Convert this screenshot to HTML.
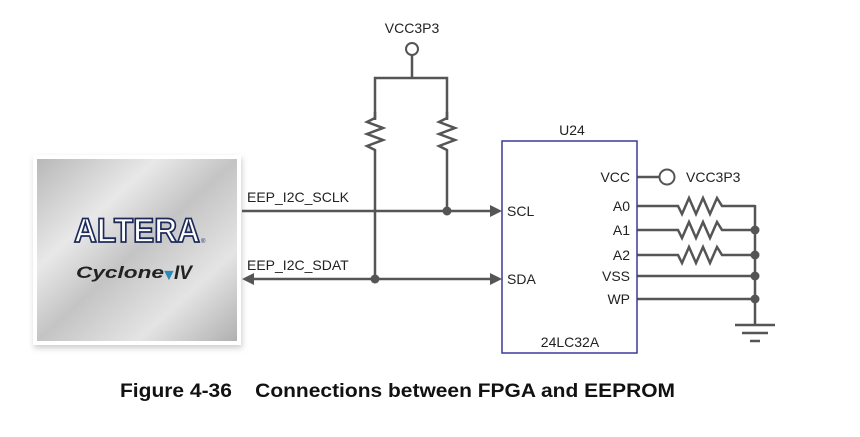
<!DOCTYPE html>
<html><head><style>
body{margin:0;background:#fff;}
svg text{font-family:"Liberation Sans",sans-serif;fill:#222;}
</style></head><body>
<svg width="860" height="432" viewBox="0 0 860 432" xmlns="http://www.w3.org/2000/svg">
<defs>
<linearGradient id="chip" x1="0" y1="0" x2="1" y2="1">
<stop offset="0" stop-color="#b8b8b8"/><stop offset="0.3" stop-color="#e8e8e8"/>
<stop offset="0.5" stop-color="#c4c4c4"/><stop offset="0.75" stop-color="#e4e4e4"/><stop offset="1" stop-color="#b0b0b0"/>
</linearGradient>
<filter id="sh" x="-10%" y="-10%" width="120%" height="120%"><feGaussianBlur stdDeviation="3"/></filter>
</defs>
<rect x="34" y="158" width="208" height="190" fill="#ccc" filter="url(#sh)"/>
<rect x="33" y="155" width="208" height="190" fill="#fff"/>
<rect x="37" y="159" width="200" height="182" fill="url(#chip)"/>
<text x="74" y="242" font-size="34" textLength="126" lengthAdjust="spacingAndGlyphs" font-weight="bold" stroke="#1c2a5a" stroke-width="1.8" style="fill:#fff">ALTERA</text>
<text x="201" y="243" font-size="6" style="fill:#1c2a5a">®</text>
<text x="76" y="278" font-size="17" font-weight="bold" font-style="italic" textLength="88" lengthAdjust="spacingAndGlyphs" style="fill:#222">Cyclone</text>
<text x="161" y="280" font-size="16" style="fill:#2a8ab8">&#x25BC;</text>
<text x="174" y="279" font-size="19" font-weight="bold" font-style="italic" font-family="Liberation Serif" style="fill:#222">IV</text>

<g stroke="#555" stroke-width="2.5" fill="none">
<circle cx="412" cy="49" r="6" stroke-width="2"/>
<line x1="412" y1="55" x2="412" y2="78"/>
<polyline points="375,120 375,78 447,78 447,120"/>
<polyline points="375,112 375,118 367,122 383,128 367,134 383,140 367,146 375,150 375,279"/>
<polyline points="447,112 447,118 439,122 455,128 439,134 455,140 439,146 447,150 447,211"/>
<line x1="242" y1="211" x2="492" y2="211"/>
<line x1="250" y1="279" x2="492" y2="279"/>
<line x1="637" y1="177" x2="659" y2="177"/>
<circle cx="667" cy="177" r="7.5" stroke-width="2"/>
<polyline points="637,206 678,206 682,214 689,198 696,214 703,198 710,214 717,198 722,206 755,206"/>
<polyline points="637,230 678,230 682,238 689,222 696,238 703,222 710,238 717,222 722,230 755,230"/>
<polyline points="637,255 678,255 682,263 689,247 696,263 703,247 710,263 717,247 722,255 755,255"/>
<line x1="637" y1="276" x2="755" y2="276"/>
<line x1="637" y1="299" x2="755" y2="299"/>
<line x1="755" y1="205" x2="755" y2="325"/>
<line x1="735" y1="325" x2="775" y2="325"/>
<line x1="742" y1="333" x2="768" y2="333"/>
<line x1="750" y1="341" x2="760" y2="341"/>
</g>
<g fill="#555">
<polygon points="490,205 502,211 490,217"/>
<polygon points="490,273 502,279 490,285"/>
<polygon points="254,273 242,279 254,285"/>
<circle cx="447" cy="211" r="4.5"/>
<circle cx="375" cy="279" r="4.5"/>
<circle cx="755" cy="230" r="4.5"/>
<circle cx="755" cy="255" r="4.5"/>
<circle cx="755" cy="276" r="4.5"/>
<circle cx="755" cy="299" r="4.5"/>
</g>
<rect x="502" y="141" width="135" height="212" fill="none" stroke="#3a3a9a" stroke-width="1.5"/>

<g font-size="14">
<text x="412" y="33" text-anchor="middle">VCC3P3</text>
<text x="247" y="202">EEP_I2C_SCLK</text>
<text x="247" y="270">EEP_I2C_SDAT</text>
<text x="572" y="135" text-anchor="middle">U24</text>
<text x="507" y="216">SCL</text>
<text x="507" y="284">SDA</text>
<text x="630" y="182" text-anchor="end">VCC</text>
<text x="630" y="211" text-anchor="end">A0</text>
<text x="630" y="235" text-anchor="end">A1</text>
<text x="630" y="260" text-anchor="end">A2</text>
<text x="630" y="281" text-anchor="end">VSS</text>
<text x="630" y="304" text-anchor="end">WP</text>
<text x="686" y="182">VCC3P3</text>
<text x="570" y="347" text-anchor="middle">24LC32A</text>
</g>
<text x="120" y="397" font-size="19" font-weight="bold" textLength="555" lengthAdjust="spacingAndGlyphs" xml:space="preserve" style="fill:#111">Figure 4-36    Connections between FPGA and EEPROM</text>
</svg>
</body></html>
